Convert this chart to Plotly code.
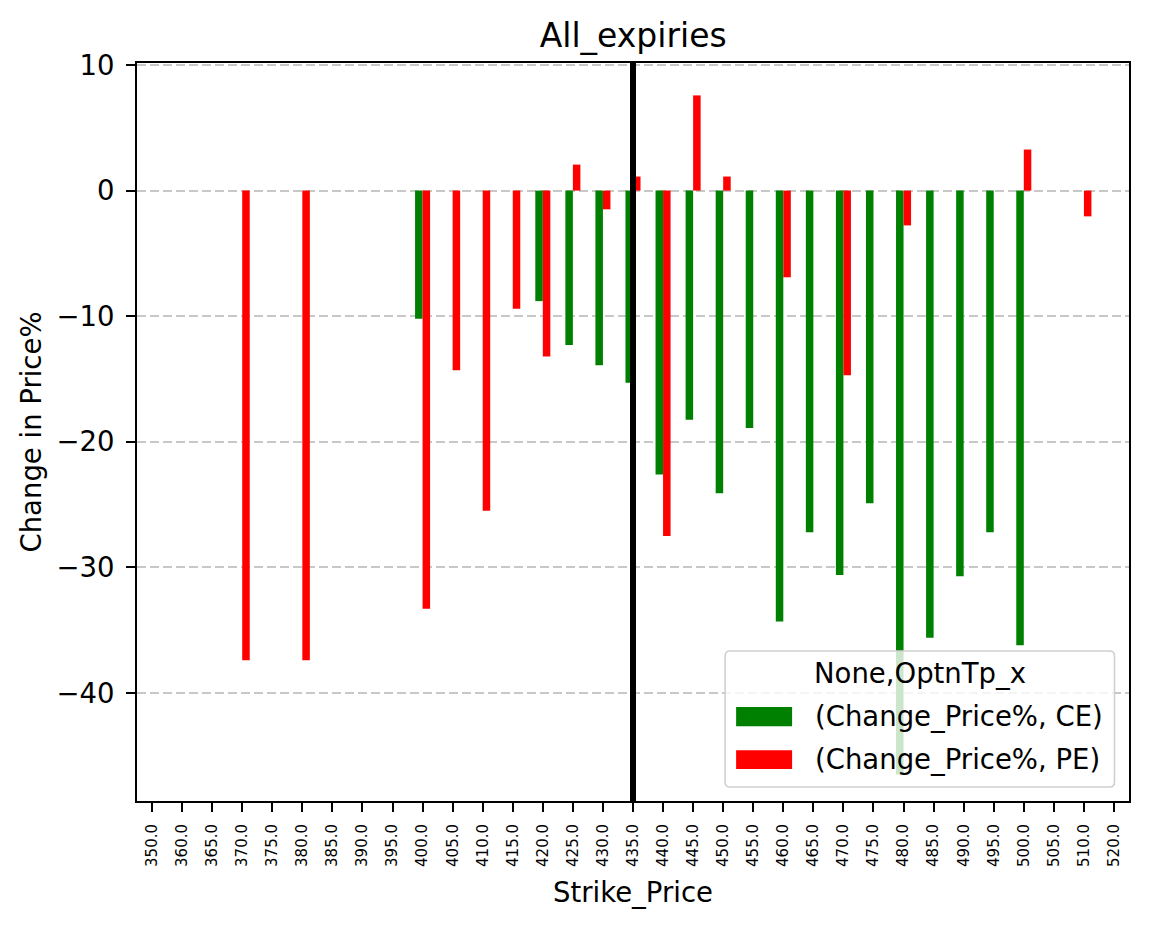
import plotly.graph_objects as go

strikes = ["350.0", "360.0", "365.0", "370.0", "375.0", "380.0", "385.0", "390.0", "395.0",
           "400.0", "405.0", "410.0", "415.0", "420.0", "425.0", "430.0", "435.0", "440.0",
           "445.0", "450.0", "455.0", "460.0", "465.0", "470.0", "475.0", "480.0", "485.0",
           "490.0", "495.0", "500.0", "505.0", "510.0", "520.0"]

ce_change = [None, None, None, None, None, None, None, None, None,
             -10.2, None, None, None, -8.8, -12.3, -13.9, -15.3, -22.6,
             -18.25, -24.1, -18.9, -34.3, -27.2, -30.6, -24.9, -46.5, -35.6,
             -30.7, -27.2, -36.2, None, None, None]

pe_change = [None, None, None, -37.4, None, -37.4, None, None, None,
             -33.3, -14.3, -25.5, -9.4, -13.2, 2.07, -1.49, 1.12, -27.5,
             7.58, 1.12, None, -6.9, None, -14.7, None, -2.77, None,
             None, None, 3.27, None, -2.05, None]

spot_strike = "435.0"
series_names = ["(Change_Price%, CE)", "(Change_Price%, PE)"]
legend_title = "None,OptnTp_x"

W, H = 1149, 928
L, R, T, B = 136.7, 1129.0, 62.7, 800.7
FONT = "DejaVu Sans"
FS = 27.5


def px(x):
    return (x - L) / (R - L)


def py(y):
    return (B - y) / (B - T)


fig = go.Figure()
fig.add_trace(go.Bar(x=strikes, y=ce_change, name=series_names[0],
                     marker=dict(color="#008000", line=dict(width=0)),
                     showlegend=False))
fig.add_trace(go.Bar(x=strikes, y=pe_change, name=series_names[1],
                     marker=dict(color="#ff0000", line=dict(width=0)),
                     showlegend=False))

spot_idx = strikes.index(spot_strike)

shapes = []
# vertical spot line
shapes.append(dict(type="line", xref="x", yref="paper", x0=spot_idx, x1=spot_idx,
                   y0=0, y1=1, line=dict(color="black", width=6), layer="above"))

# legend box (rounded)
x0, x1, y0, y1 = px(725), px(1114.5), py(786.7), py(650.7)
rx = 5 / (R - L)
ry = 5 / (B - T)
path = (f"M{x0+rx},{y0} L{x1-rx},{y0} Q{x1},{y0} {x1},{y0+ry} "
        f"L{x1},{y1-ry} Q{x1},{y1} {x1-rx},{y1} L{x0+rx},{y1} "
        f"Q{x0},{y1} {x0},{y1-ry} L{x0},{y0+ry} Q{x0},{y0} {x0+rx},{y0} Z")
shapes.append(dict(type="path", xref="paper", yref="paper", path=path,
                   fillcolor="rgba(255,255,255,0.8)",
                   line=dict(color="#d0d0d0", width=1.6), layer="above"))
shapes.append(dict(type="rect", xref="paper", yref="paper",
                   x0=px(736), x1=px(792), y0=py(726), y1=py(706.7),
                   fillcolor="#008000", line=dict(width=0), layer="above"))
shapes.append(dict(type="rect", xref="paper", yref="paper",
                   x0=px(736), x1=px(792), y0=py(768.7), y1=py(750),
                   fillcolor="#ff0000", line=dict(width=0), layer="above"))

annotations = [
    dict(text=legend_title, xref="paper", yref="paper", x=px(920), y=py(673),
         xanchor="center", yanchor="middle", showarrow=False,
         font=dict(family=FONT, size=FS, color="black")),
    dict(text=series_names[0], xref="paper", yref="paper", x=px(813), y=py(716),
         xanchor="left", yanchor="middle", showarrow=False,
         font=dict(family=FONT, size=FS, color="black")),
    dict(text=series_names[1], xref="paper", yref="paper", x=px(813), y=py(759),
         xanchor="left", yanchor="middle", showarrow=False,
         font=dict(family=FONT, size=FS, color="black")),
]

fig.update_layout(
    width=W, height=H,
    margin=dict(l=L, r=W - R, t=T, b=H - B, pad=0),
    paper_bgcolor="white", plot_bgcolor="white",
    barmode="group", bargap=0.5, bargroupgap=0,
    font=dict(family=FONT, size=FS, color="black"),
    title=dict(text="All_expiries", x=px(633), xref="paper", xanchor="center",
               y=1 - 35 / H, yref="container", yanchor="middle",
               font=dict(family=FONT, size=33, color="black")),
    shapes=shapes,
    annotations=annotations,
    showlegend=False,
)

fig.update_xaxes(
    type="category", categoryorder="array", categoryarray=strikes,
    range=[-0.5, 32.5],
    showline=True, linecolor="black", linewidth=2, mirror=True,
    ticks="outside", ticklen=9, tickwidth=2, tickcolor="black",
    tickangle=-90, tickfont=dict(family=FONT, size=15, color="black"),
    ticklabelstandoff=6,
    showgrid=False, zeroline=False,
    title=dict(text="Strike_Price", font=dict(family=FONT, size=FS, color="black"), standoff=17),
)

fig.update_yaxes(
    range=[-48.6, 10.16],
    tickmode="array", tickvals=[10, 0, -10, -20, -30, -40],
    showline=True, linecolor="black", linewidth=2, mirror=True,
    ticks="outside", ticklen=9, tickwidth=2, tickcolor="black",
    tickfont=dict(family=FONT, size=FS, color="black"),
    ticklabelstandoff=6,
    showgrid=True, gridcolor="#c8c8c8", gridwidth=1.8, griddash="9px,4px",
    zeroline=False,
    title=dict(text="Change in Price%", font=dict(family=FONT, size=FS, color="black"), standoff=7),
)

fig.write_html("out.html")
